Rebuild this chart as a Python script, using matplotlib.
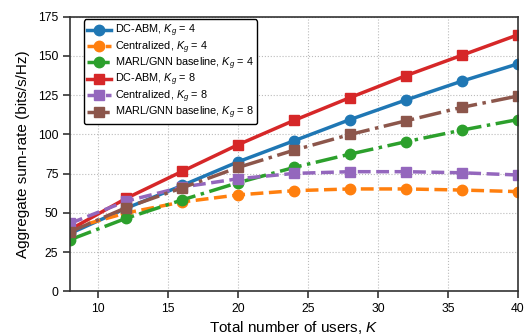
import matplotlib
matplotlib.use("Agg")
import matplotlib.pyplot as plt

plt.rcParams['font.family'] = ['Liberation Sans', 'DejaVu Sans']
plt.rcParams['mathtext.fontset'] = 'custom'
plt.rcParams['mathtext.it'] = 'Liberation Sans:italic'
plt.rcParams['mathtext.rm'] = 'Liberation Sans'

users = [8, 12, 16, 20, 24, 28, 32, 36, 40]
dc_abm_4 = [37, 53, 67.5, 82.6, 96, 109.5, 122, 134, 145]
central_4 = [40, 50, 57, 61.5, 64.2, 65.3, 65.3, 64.6, 63.6]
marl_4 = [33, 46.6, 58.3, 69.3, 79, 87.5, 95.4, 102.8, 109.5]
dc_abm_8 = [39.5, 59.3, 76.5, 93.5, 109, 123.5, 137.5, 150.5, 163.5]
central_8 = [43.4, 57.5, 66.5, 71.8, 75.2, 76.3, 76.3, 75.6, 74.2]
marl_8 = [38, 53.4, 66, 79, 90, 100, 108.7, 117.3, 124.5]

series = [
    (dc_abm_4, r"DC-ABM, $K_g$ = 4", "#1f77b4", "-", "o"),
    (central_4, r"Centralized, $K_g$ = 4", "#ff7f0e", "--", "o"),
    (marl_4, r"MARL/GNN baseline, $K_g$ = 4", "#2ca02c", "-.", "o"),
    (dc_abm_8, r"DC-ABM, $K_g$ = 8", "#d62728", "-", "s"),
    (central_8, r"Centralized, $K_g$ = 8", "#9467bd", "--", "s"),
    (marl_8, r"MARL/GNN baseline, $K_g$ = 8", "#8c564b", "-.", "s"),
]

fig, ax = plt.subplots(figsize=(5.28, 3.35), dpi=100)
for vals, lab, col, ls, mk in series:
    ax.plot(users, vals, color=col, linestyle=ls, marker=mk, linewidth=2.5,
            markersize=7.5, label=lab)

ax.set_xlim(8, 40)
ax.set_ylim(0, 175)
ax.set_xticks([10, 15, 20, 25, 30, 35, 40])
ax.set_yticks([0, 25, 50, 75, 100, 125, 150, 175])
ax.grid(True, linestyle=":", color="#bbbbbb", linewidth=0.8)
ax.set_xlabel("Total number of users, $K$", fontsize=11, labelpad=3)
ax.set_ylabel("Aggregate sum-rate (bits/s/Hz)", fontsize=11, labelpad=6)
ax.tick_params(labelsize=8.7, length=5, width=1.2, color="#333333")
for s in ax.spines.values():
    s.set_linewidth(1.2)
    s.set_color("#333333")
leg = ax.legend(loc="upper left", fontsize=7.8, frameon=True, edgecolor="black",
                framealpha=1, handlelength=2.2, labelspacing=0.0, borderpad=0.3,
                handletextpad=0.4, borderaxespad=0.0, bbox_to_anchor=(0.03, 0.99))
leg.get_frame().set_linewidth(1.0)
fig.subplots_adjust(left=0.133, right=0.981, bottom=0.13, top=0.95)
fig.savefig("out.png", dpi=100)
